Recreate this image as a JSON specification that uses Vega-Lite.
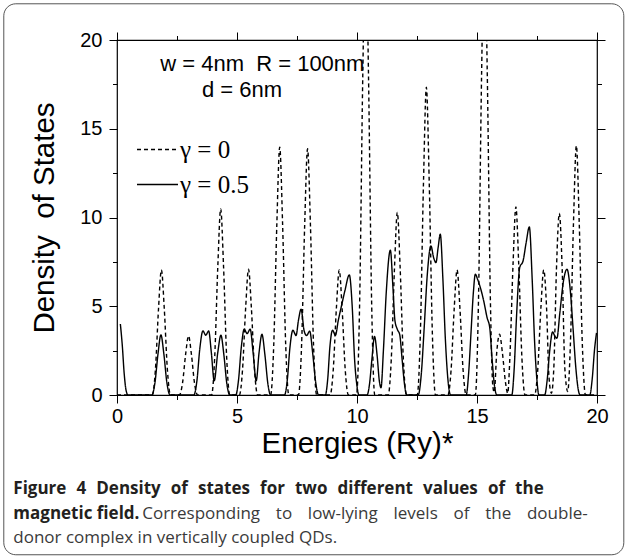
{
  "$schema": "https://vega.github.io/schema/vega-lite/v6.json",
  "width": 480,
  "height": 355,
  "padding": {"left": 3, "top": 3, "right": 3, "bottom": 3},
  "background": "white",
  "config": {
    "view": {"stroke": "black", "strokeWidth": 1.2},
    "axis": {"domain": false, "grid": false, "tickColor": "black", "tickWidth": 1, "labelColor": "black", "titleColor": "black", "labelFont": "Liberation Sans", "titleFont": "Liberation Sans", "titleFontWeight": "normal"}
  },
  "data": {"values": [
    {"s": "γ = 0", "x": 0, "y": 0},
    {"s": "γ = 0", "x": 1.47, "y": 0}, {"s": "γ = 0", "x": 1.6, "y": 1.41}, {"s": "γ = 0", "x": 1.73, "y": 4.86}, {"s": "γ = 0", "x": 1.85, "y": 7.05}, {"s": "γ = 0", "x": 1.97, "y": 4.86}, {"s": "γ = 0", "x": 2.1, "y": 1.41}, {"s": "γ = 0", "x": 2.23, "y": 0},
    {"s": "γ = 0", "x": 2.6, "y": 0}, {"s": "γ = 0", "x": 2.73, "y": 0.67}, {"s": "γ = 0", "x": 2.86, "y": 2.3}, {"s": "γ = 0", "x": 2.98, "y": 3.33}, {"s": "γ = 0", "x": 3.1, "y": 2.3}, {"s": "γ = 0", "x": 3.23, "y": 0.67}, {"s": "γ = 0", "x": 3.36, "y": 0},
    {"s": "γ = 0", "x": 3.94, "y": 0}, {"s": "γ = 0", "x": 4.07, "y": 2.1}, {"s": "γ = 0", "x": 4.2, "y": 7.23}, {"s": "γ = 0", "x": 4.32, "y": 10.48}, {"s": "γ = 0", "x": 4.44, "y": 7.23}, {"s": "γ = 0", "x": 4.57, "y": 2.1}, {"s": "γ = 0", "x": 4.7, "y": 0},
    {"s": "γ = 0", "x": 5.1, "y": 0}, {"s": "γ = 0", "x": 5.23, "y": 1.42}, {"s": "γ = 0", "x": 5.36, "y": 4.89}, {"s": "γ = 0", "x": 5.48, "y": 7.09}, {"s": "γ = 0", "x": 5.6, "y": 4.89}, {"s": "γ = 0", "x": 5.73, "y": 1.42}, {"s": "γ = 0", "x": 5.86, "y": 0},
    {"s": "γ = 0", "x": 6.4, "y": 0}, {"s": "γ = 0", "x": 6.53, "y": 2.79}, {"s": "γ = 0", "x": 6.66, "y": 9.63}, {"s": "γ = 0", "x": 6.78, "y": 13.96}, {"s": "γ = 0", "x": 6.9, "y": 9.63}, {"s": "γ = 0", "x": 7.03, "y": 2.79}, {"s": "γ = 0", "x": 7.16, "y": 0},
    {"s": "γ = 0", "x": 7.56, "y": 0}, {"s": "γ = 0", "x": 7.69, "y": 2.77}, {"s": "γ = 0", "x": 7.82, "y": 9.57}, {"s": "γ = 0", "x": 7.94, "y": 13.87}, {"s": "γ = 0", "x": 8.06, "y": 9.57}, {"s": "γ = 0", "x": 8.19, "y": 2.77}, {"s": "γ = 0", "x": 8.32, "y": 0},
    {"s": "γ = 0", "x": 8.88, "y": 0}, {"s": "γ = 0", "x": 9.01, "y": 1.41}, {"s": "γ = 0", "x": 9.14, "y": 4.86}, {"s": "γ = 0", "x": 9.26, "y": 7.04}, {"s": "γ = 0", "x": 9.38, "y": 4.86}, {"s": "γ = 0", "x": 9.51, "y": 1.41}, {"s": "γ = 0", "x": 9.64, "y": 0},
    {"s": "γ = 0", "x": 9.98, "y": 0}, {"s": "γ = 0", "x": 10.11, "y": 5.2}, {"s": "γ = 0", "x": 10.24, "y": 17.94}, {"s": "γ = 0", "x": 10.36, "y": 26}, {"s": "γ = 0", "x": 10.48, "y": 17.94}, {"s": "γ = 0", "x": 10.61, "y": 5.2}, {"s": "γ = 0", "x": 10.74, "y": 0},
    {"s": "γ = 0", "x": 11.3, "y": 0}, {"s": "γ = 0", "x": 11.43, "y": 2.06}, {"s": "γ = 0", "x": 11.56, "y": 7.09}, {"s": "γ = 0", "x": 11.68, "y": 10.28}, {"s": "γ = 0", "x": 11.8, "y": 7.09}, {"s": "γ = 0", "x": 11.93, "y": 2.06}, {"s": "γ = 0", "x": 12.06, "y": 0},
    {"s": "γ = 0", "x": 12.51, "y": 0}, {"s": "γ = 0", "x": 12.64, "y": 3.47}, {"s": "γ = 0", "x": 12.77, "y": 11.96}, {"s": "γ = 0", "x": 12.89, "y": 17.34}, {"s": "γ = 0", "x": 13.01, "y": 11.96}, {"s": "γ = 0", "x": 13.14, "y": 3.47}, {"s": "γ = 0", "x": 13.27, "y": 0},
    {"s": "γ = 0", "x": 13.79, "y": 0}, {"s": "γ = 0", "x": 13.92, "y": 1.41}, {"s": "γ = 0", "x": 14.05, "y": 4.86}, {"s": "γ = 0", "x": 14.17, "y": 7.05}, {"s": "γ = 0", "x": 14.29, "y": 4.86}, {"s": "γ = 0", "x": 14.42, "y": 1.41}, {"s": "γ = 0", "x": 14.55, "y": 0},
    {"s": "γ = 0", "x": 14.93, "y": 0}, {"s": "γ = 0", "x": 15.06, "y": 5.2}, {"s": "γ = 0", "x": 15.19, "y": 17.94}, {"s": "γ = 0", "x": 15.31, "y": 26}, {"s": "γ = 0", "x": 15.43, "y": 17.94}, {"s": "γ = 0", "x": 15.56, "y": 5.2}, {"s": "γ = 0", "x": 15.66, "y": 0.5}, {"s": "γ = 0", "x": 15.72, "y": 0.15}, {"s": "γ = 0", "x": 15.82, "y": 2.36}, {"s": "γ = 0", "x": 15.94, "y": 3.42}, {"s": "γ = 0", "x": 16.06, "y": 2.36}, {"s": "γ = 0", "x": 16.19, "y": 0.68}, {"s": "γ = 0", "x": 16.28, "y": 0.1},
    {"s": "γ = 0", "x": 16.37, "y": 2.12}, {"s": "γ = 0", "x": 16.5, "y": 7.31}, {"s": "γ = 0", "x": 16.62, "y": 10.6}, {"s": "γ = 0", "x": 16.74, "y": 7.31}, {"s": "γ = 0", "x": 16.87, "y": 2.12}, {"s": "γ = 0", "x": 17.0, "y": 0},
    {"s": "γ = 0", "x": 17.4, "y": 0}, {"s": "γ = 0", "x": 17.53, "y": 1.41}, {"s": "γ = 0", "x": 17.66, "y": 4.86}, {"s": "γ = 0", "x": 17.78, "y": 7.05}, {"s": "γ = 0", "x": 17.9, "y": 4.86}, {"s": "γ = 0", "x": 18.0, "y": 1.0}, {"s": "γ = 0", "x": 18.1, "y": 0.1}, {"s": "γ = 0", "x": 18.2, "y": 1.5}, {"s": "γ = 0", "x": 18.31, "y": 7.06}, {"s": "γ = 0", "x": 18.43, "y": 10.23}, {"s": "γ = 0", "x": 18.55, "y": 7.06}, {"s": "γ = 0", "x": 18.66, "y": 1.5}, {"s": "γ = 0", "x": 18.78, "y": 0.2}, {"s": "γ = 0", "x": 18.89, "y": 2.81}, {"s": "γ = 0", "x": 19.02, "y": 9.69}, {"s": "γ = 0", "x": 19.14, "y": 14.05}, {"s": "γ = 0", "x": 19.26, "y": 9.69}, {"s": "γ = 0", "x": 19.39, "y": 2.81}, {"s": "γ = 0", "x": 19.52, "y": 0}, {"s": "γ = 0", "x": 20, "y": 0},
    {"s": "γ = 0.5", "x": 0.14, "y": 4.0}, {"s": "γ = 0.5", "x": 0.22, "y": 2.8}, {"s": "γ = 0.5", "x": 0.3, "y": 1.2}, {"s": "γ = 0.5", "x": 0.38, "y": 0.25}, {"s": "γ = 0.5", "x": 0.46, "y": 0},
    {"s": "γ = 0.5", "x": 1.45, "y": 0}, {"s": "γ = 0.5", "x": 1.58, "y": 0.68}, {"s": "γ = 0.5", "x": 1.71, "y": 2.34}, {"s": "γ = 0.5", "x": 1.83, "y": 3.39}, {"s": "γ = 0.5", "x": 1.95, "y": 2.34}, {"s": "γ = 0.5", "x": 2.08, "y": 0.68}, {"s": "γ = 0.5", "x": 2.21, "y": 0},
    {"s": "γ = 0.5", "x": 3.2, "y": 0}, {"s": "γ = 0.5", "x": 3.33, "y": 0.8}, {"s": "γ = 0.5", "x": 3.45, "y": 2.6}, {"s": "γ = 0.5", "x": 3.58, "y": 3.61}, {"s": "γ = 0.5", "x": 3.7, "y": 3.37}, {"s": "γ = 0.5", "x": 3.82, "y": 3.61}, {"s": "γ = 0.5", "x": 3.93, "y": 2.4}, {"s": "γ = 0.5", "x": 4.05, "y": 0.8}, {"s": "γ = 0.5", "x": 4.2, "y": 2.4}, {"s": "γ = 0.5", "x": 4.33, "y": 3.37}, {"s": "γ = 0.5", "x": 4.45, "y": 2.3}, {"s": "γ = 0.5", "x": 4.58, "y": 0.6}, {"s": "γ = 0.5", "x": 4.7, "y": 0},
    {"s": "γ = 0.5", "x": 4.95, "y": 0}, {"s": "γ = 0.5", "x": 5.06, "y": 0.8}, {"s": "γ = 0.5", "x": 5.18, "y": 2.7}, {"s": "γ = 0.5", "x": 5.3, "y": 3.71}, {"s": "γ = 0.5", "x": 5.42, "y": 3.46}, {"s": "γ = 0.5", "x": 5.55, "y": 3.71}, {"s": "γ = 0.5", "x": 5.67, "y": 2.4}, {"s": "γ = 0.5", "x": 5.8, "y": 0.8}, {"s": "γ = 0.5", "x": 5.92, "y": 2.4}, {"s": "γ = 0.5", "x": 6.04, "y": 3.42}, {"s": "γ = 0.5", "x": 6.16, "y": 2.3}, {"s": "γ = 0.5", "x": 6.29, "y": 0.6}, {"s": "γ = 0.5", "x": 6.4, "y": 0},
    {"s": "γ = 0.5", "x": 6.98, "y": 0}, {"s": "γ = 0.5", "x": 7.1, "y": 0.9}, {"s": "γ = 0.5", "x": 7.2, "y": 2.6}, {"s": "γ = 0.5", "x": 7.33, "y": 3.65}, {"s": "γ = 0.5", "x": 7.46, "y": 3.35}, {"s": "γ = 0.5", "x": 7.56, "y": 4.2}, {"s": "γ = 0.5", "x": 7.67, "y": 4.83}, {"s": "γ = 0.5", "x": 7.8, "y": 3.6}, {"s": "γ = 0.5", "x": 7.9, "y": 3.35}, {"s": "γ = 0.5", "x": 8.03, "y": 3.6}, {"s": "γ = 0.5", "x": 8.15, "y": 2.4}, {"s": "γ = 0.5", "x": 8.28, "y": 0.7}, {"s": "γ = 0.5", "x": 8.4, "y": 0},
    {"s": "γ = 0.5", "x": 8.68, "y": 0}, {"s": "γ = 0.5", "x": 8.78, "y": 0.9}, {"s": "γ = 0.5", "x": 8.87, "y": 2.7}, {"s": "γ = 0.5", "x": 8.98, "y": 3.65}, {"s": "γ = 0.5", "x": 9.1, "y": 3.36}, {"s": "γ = 0.5", "x": 9.22, "y": 4.2}, {"s": "γ = 0.5", "x": 9.35, "y": 5.0}, {"s": "γ = 0.5", "x": 9.5, "y": 5.9}, {"s": "γ = 0.5", "x": 9.68, "y": 6.77}, {"s": "γ = 0.5", "x": 9.8, "y": 5.0}, {"s": "γ = 0.5", "x": 9.9, "y": 2.0}, {"s": "γ = 0.5", "x": 10.0, "y": 0.5}, {"s": "γ = 0.5", "x": 10.08, "y": 0},
    {"s": "γ = 0.5", "x": 10.42, "y": 0}, {"s": "γ = 0.5", "x": 10.52, "y": 0.6}, {"s": "γ = 0.5", "x": 10.62, "y": 2.0}, {"s": "γ = 0.5", "x": 10.73, "y": 3.3}, {"s": "γ = 0.5", "x": 10.84, "y": 2.2}, {"s": "γ = 0.5", "x": 10.93, "y": 0.8}, {"s": "γ = 0.5", "x": 11.0, "y": 0.41}, {"s": "γ = 0.5", "x": 11.1, "y": 2.5}, {"s": "γ = 0.5", "x": 11.22, "y": 5.8}, {"s": "γ = 0.5", "x": 11.39, "y": 8.16}, {"s": "γ = 0.5", "x": 11.5, "y": 6.0}, {"s": "γ = 0.5", "x": 11.58, "y": 4.2}, {"s": "γ = 0.5", "x": 11.68, "y": 3.7}, {"s": "γ = 0.5", "x": 11.78, "y": 3.4}, {"s": "γ = 0.5", "x": 11.88, "y": 2.0}, {"s": "γ = 0.5", "x": 11.98, "y": 0.6}, {"s": "γ = 0.5", "x": 12.08, "y": 0},
    {"s": "γ = 0.5", "x": 12.55, "y": 0}, {"s": "γ = 0.5", "x": 12.68, "y": 1.2}, {"s": "γ = 0.5", "x": 12.8, "y": 3.8}, {"s": "γ = 0.5", "x": 12.93, "y": 6.8}, {"s": "γ = 0.5", "x": 13.08, "y": 8.4}, {"s": "γ = 0.5", "x": 13.2, "y": 7.7}, {"s": "γ = 0.5", "x": 13.29, "y": 7.46}, {"s": "γ = 0.5", "x": 13.38, "y": 8.3}, {"s": "γ = 0.5", "x": 13.47, "y": 9.06}, {"s": "γ = 0.5", "x": 13.58, "y": 6.5}, {"s": "γ = 0.5", "x": 13.68, "y": 3.2}, {"s": "γ = 0.5", "x": 13.78, "y": 1.0}, {"s": "γ = 0.5", "x": 13.9, "y": 0},
    {"s": "γ = 0.5", "x": 14.55, "y": 0}, {"s": "γ = 0.5", "x": 14.65, "y": 1.2}, {"s": "γ = 0.5", "x": 14.75, "y": 3.5}, {"s": "γ = 0.5", "x": 14.85, "y": 5.8}, {"s": "γ = 0.5", "x": 14.93, "y": 6.8}, {"s": "γ = 0.5", "x": 15.03, "y": 6.5}, {"s": "γ = 0.5", "x": 15.14, "y": 6.05}, {"s": "γ = 0.5", "x": 15.28, "y": 5.3}, {"s": "γ = 0.5", "x": 15.42, "y": 4.36}, {"s": "γ = 0.5", "x": 15.53, "y": 3.8}, {"s": "γ = 0.5", "x": 15.63, "y": 2.0}, {"s": "γ = 0.5", "x": 15.73, "y": 0.5}, {"s": "γ = 0.5", "x": 15.83, "y": 0},
    {"s": "γ = 0.5", "x": 16.45, "y": 0}, {"s": "γ = 0.5", "x": 16.55, "y": 1.5}, {"s": "γ = 0.5", "x": 16.65, "y": 4.5}, {"s": "γ = 0.5", "x": 16.78, "y": 7.18}, {"s": "γ = 0.5", "x": 16.92, "y": 7.56}, {"s": "γ = 0.5", "x": 17.05, "y": 8.6}, {"s": "γ = 0.5", "x": 17.18, "y": 9.47}, {"s": "γ = 0.5", "x": 17.3, "y": 6.5}, {"s": "γ = 0.5", "x": 17.4, "y": 3.0}, {"s": "γ = 0.5", "x": 17.5, "y": 0.8}, {"s": "γ = 0.5", "x": 17.58, "y": 0},
    {"s": "γ = 0.5", "x": 17.82, "y": 0}, {"s": "γ = 0.5", "x": 17.92, "y": 0.8}, {"s": "γ = 0.5", "x": 18.03, "y": 2.5}, {"s": "γ = 0.5", "x": 18.15, "y": 3.55}, {"s": "γ = 0.5", "x": 18.25, "y": 3.3}, {"s": "γ = 0.5", "x": 18.33, "y": 3.2}, {"s": "γ = 0.5", "x": 18.45, "y": 4.6}, {"s": "γ = 0.5", "x": 18.6, "y": 6.4}, {"s": "γ = 0.5", "x": 18.75, "y": 7.09}, {"s": "γ = 0.5", "x": 18.88, "y": 6.0}, {"s": "γ = 0.5", "x": 19.0, "y": 3.8}, {"s": "γ = 0.5", "x": 19.12, "y": 1.5}, {"s": "γ = 0.5", "x": 19.22, "y": 0.3}, {"s": "γ = 0.5", "x": 19.3, "y": 0},
    {"s": "γ = 0.5", "x": 19.7, "y": 0}, {"s": "γ = 0.5", "x": 19.8, "y": 0.9}, {"s": "γ = 0.5", "x": 19.9, "y": 2.6}, {"s": "γ = 0.5", "x": 19.98, "y": 3.5}
  ]},
  "resolve": {"axis": {"x": "independent", "y": "independent"}},
  "layer": [
    {
      "data": {"values": [{}]},
      "mark": {"type": "rect", "filled": false, "stroke": "#555555", "strokeWidth": 1, "cornerRadius": 12},
      "encoding": {
        "x": {"datum": -4.717, "type": "quantitative", "axis": null, "scale": {"domain": [0, 20], "nice": false, "zero": false}},
        "x2": {"datum": 21.117},
        "y": {"datum": 22.04, "type": "quantitative", "axis": null, "scale": {"domain": [0, 20], "nice": false, "zero": false}},
        "y2": {"datum": -9.0}
      }
    },
    {
      "mark": {"type": "line", "color": "black", "strokeWidth": 1.4, "interpolate": "monotone", "clip": true},
      "encoding": {
        "x": {"field": "x", "type": "quantitative", "scale": {"domain": [0, 20], "nice": false, "zero": false},
          "axis": {"orient": "bottom", "values": [0, 2.5, 5, 7.5, 10, 12.5, 15, 17.5, 20], "labelExpr": "datum.value % 5 === 0 ? datum.label : ''", "tickSize": {"condition": {"test": "datum.value % 5 === 0", "value": 8}, "value": 4.5}, "labelFontSize": 20, "labelPadding": 3, "labelFlush": false, "title": "Energies (Ry)*", "titleFontSize": 29.5, "titlePadding": 3}},
        "y": {"field": "y", "type": "quantitative", "scale": {"domain": [0, 20], "nice": false, "zero": false},
          "axis": {"orient": "left", "values": [0, 2.5, 5, 7.5, 10, 12.5, 15, 17.5, 20], "labelExpr": "datum.value % 5 === 0 ? datum.label : ''", "tickSize": {"condition": {"test": "datum.value % 5 === 0", "value": 8}, "value": 4.5}, "labelFontSize": 20, "labelPadding": 7, "labelFlush": false, "title": "Density\u00a0 of States", "titleFontSize": 29.5, "titlePadding": 20}},
        "strokeDash": {"field": "s", "type": "nominal", "scale": {"domain": ["γ = 0", "γ = 0.5"], "range": [[4, 3], [1, 0]]},
          "legend": {"orient": "none", "legendX": 19, "legendY": 88, "title": null, "padding": 0, "labelFont": "Liberation Serif", "labelFontSize": 25, "labelColor": "black", "labelOffset": 1, "symbolType": "stroke", "symbolSize": 1681, "symbolStrokeWidth": 1.4, "symbolStrokeColor": "black", "rowPadding": 0}}
      }
    },
    {
      "mark": {"type": "line", "opacity": 0, "clip": true},
      "encoding": {
        "x": {"field": "x", "type": "quantitative", "scale": {"domain": [0, 20], "nice": false, "zero": false},
          "axis": {"orient": "top", "values": [0, 2.5, 5, 7.5, 10, 12.5, 15, 17.5, 20], "labels": false, "tickSize": {"condition": {"test": "datum.value % 5 === 0", "value": 8}, "value": 4.5}, "title": null}},
        "y": {"field": "y", "type": "quantitative", "scale": {"domain": [0, 20], "nice": false, "zero": false},
          "axis": {"orient": "right", "values": [0, 2.5, 5, 7.5, 10, 12.5, 15, 17.5, 20], "labels": false, "tickSize": {"condition": {"test": "datum.value % 5 === 0", "value": 8}, "value": 4.5}, "title": null}}
      }
    },
    {
      "data": {"values": [{}]},
      "mark": {"type": "text", "text": "w = 4nm\u00a0 R = 100nm", "font": "Liberation Sans", "fontSize": 22, "align": "left", "baseline": "alphabetic", "color": "black"},
      "encoding": {
        "x": {"datum": 1.8, "type": "quantitative", "axis": null, "scale": {"domain": [0, 20], "nice": false, "zero": false}},
        "y": {"datum": 18.28, "type": "quantitative", "axis": null, "scale": {"domain": [0, 20], "nice": false, "zero": false}}
      }
    },
    {
      "data": {"values": [{}]},
      "mark": {"type": "text", "text": "d = 6nm", "font": "Liberation Sans", "fontSize": 22, "align": "left", "baseline": "alphabetic", "color": "black"},
      "encoding": {
        "x": {"datum": 3.54, "type": "quantitative", "axis": null, "scale": {"domain": [0, 20], "nice": false, "zero": false}},
        "y": {"datum": 16.78, "type": "quantitative", "axis": null, "scale": {"domain": [0, 20], "nice": false, "zero": false}}
      }
    },
    {
      "data": {"values": [{}]},
      "mark": {"type": "text", "text": "Figure \u20044 \u2004Density \u2004of \u2004states \u2004for \u2004two \u2004different \u2004values \u2004of \u2004the", "font": "Open Sans", "fontWeight": "bold", "fontSize": 17, "align": "left", "baseline": "alphabetic", "color": "#231f20"},
      "encoding": {
        "x": {"datum": -4.32, "type": "quantitative", "axis": null, "scale": {"domain": [0, 20], "nice": false, "zero": false}},
        "y": {"datum": -5.59, "type": "quantitative", "axis": null, "scale": {"domain": [0, 20], "nice": false, "zero": false}}
      }
    },
    {
      "data": {"values": [{}]},
      "mark": {"type": "text", "text": "magnetic field.", "font": "Open Sans", "fontWeight": "bold", "fontSize": 17, "align": "left", "baseline": "alphabetic", "color": "#231f20"},
      "encoding": {
        "x": {"datum": -4.32, "type": "quantitative", "axis": null, "scale": {"domain": [0, 20], "nice": false, "zero": false}},
        "y": {"datum": -7.0, "type": "quantitative", "axis": null, "scale": {"domain": [0, 20], "nice": false, "zero": false}}
      }
    },
    {
      "data": {"values": [{}]},
      "mark": {"type": "text", "text": "Corresponding \u2002\u2009to \u2002\u2009low-lying \u2002\u2009levels \u2002\u2009of \u2002\u2009the \u2002\u2009double-", "font": "Open Sans", "fontSize": 17, "align": "left", "baseline": "alphabetic", "color": "#3a3a3a"},
      "encoding": {
        "x": {"datum": 1.05, "type": "quantitative", "axis": null, "scale": {"domain": [0, 20], "nice": false, "zero": false}},
        "y": {"datum": -7.0, "type": "quantitative", "axis": null, "scale": {"domain": [0, 20], "nice": false, "zero": false}}
      }
    },
    {
      "data": {"values": [{}]},
      "mark": {"type": "text", "text": "donor complex in vertically coupled QDs.", "font": "Open Sans", "fontSize": 17, "align": "left", "baseline": "alphabetic", "color": "#3a3a3a"},
      "encoding": {
        "x": {"datum": -4.32, "type": "quantitative", "axis": null, "scale": {"domain": [0, 20], "nice": false, "zero": false}},
        "y": {"datum": -8.35, "type": "quantitative", "axis": null, "scale": {"domain": [0, 20], "nice": false, "zero": false}}
      }
    }
  ]
}
